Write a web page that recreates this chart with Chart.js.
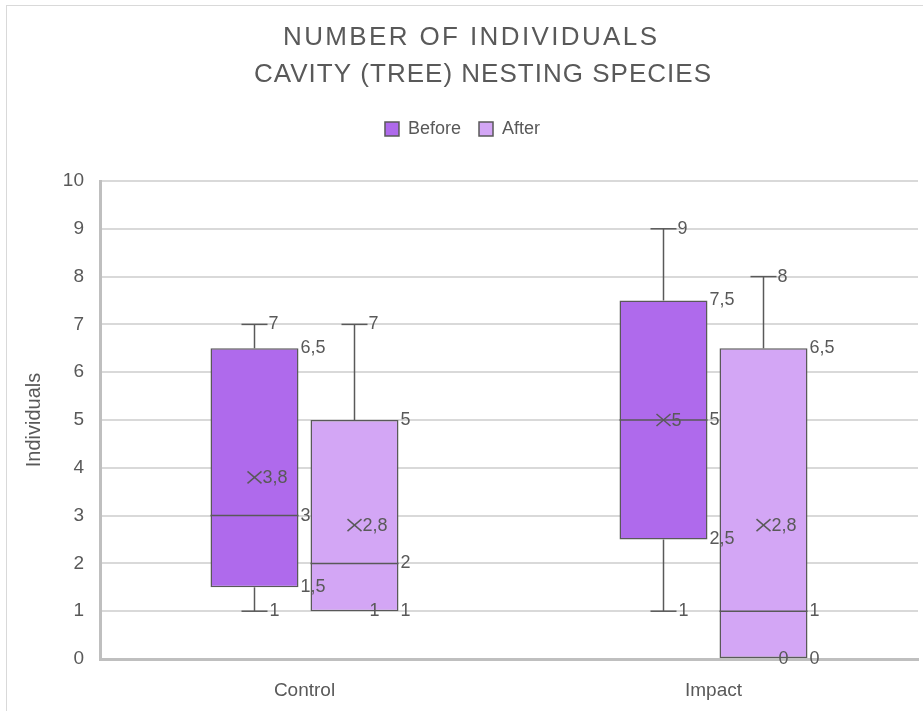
<!DOCTYPE html>
<html lang="en">
<head>
    <meta charset="UTF-8">
    <title>Number of individuals - cavity (tree) nesting species</title>
    <script src="https://cdn.jsdelivr.net/npm/chart.js"></script>
    <style>
        html, body { margin: 0; padding: 0; background: #ffffff; overflow: hidden; }
        #wrap {
            position: absolute;
            left: 6px;
            top: 5px;
            width: 1000px;
            height: 800px;
            border: 1px solid #d9d9d9;
        }
        canvas { display: block; }
    </style>
</head>
<body>
    <div id="wrap">
        <canvas id="chart" width="926" height="705"></canvas>
    </div>

    <script>
        // box plot summary per site, one set of arrays per period
        const categories = ['Control', 'Impact'];
        const seriesNames = ['Before', 'After'];

        const beforeMin = [1, 1];
        const beforeQ1 = [1.5, 2.5];
        const beforeMedian = [3, 5];
        const beforeQ3 = [6.5, 7.5];
        const beforeMax = [7, 9];
        const beforeMean = [3.8, 5];

        const afterMin = [1, 0];
        const afterQ1 = [1, 0];
        const afterMedian = [2, 1];
        const afterQ3 = [5, 6.5];
        const afterMax = [7, 8];
        const afterMean = [2.8, 2.8];

        const yTickValues = [0, 1, 2, 3, 4, 5, 6, 7, 8, 9, 10];
        const titleLines = ['NUMBER OF INDIVIDUALS', 'CAVITY (TREE) NESTING SPECIES'];

        const textColor = '#595959';
        const lineColor = '#595959';
        const fontFamily = '"Liberation Sans", Arial, sans-serif';

        const fmt = v => String(v).replace('.', ',');

        // whiskers, median, mean marker and value labels on top of the floating bars
        const boxDetails = {
            id: 'boxDetails',
            afterDatasetsDraw(chart) {
                const { ctx } = chart;
                const y = chart.scales.y;
                const line = (x1, y1, x2, y2) => {
                    ctx.beginPath();
                    ctx.moveTo(x1, y1);
                    ctx.lineTo(x2, y2);
                    ctx.stroke();
                };
                ctx.save();
                ctx.strokeStyle = lineColor;
                ctx.lineWidth = 1.5;
                ctx.fillStyle = textColor;
                ctx.font = '18px ' + fontFamily;
                ctx.textBaseline = 'middle';
                ctx.textAlign = 'left';

                chart.data.datasets.forEach((ds, di) => {
                    const s = ds.stats;
                    chart.getDatasetMeta(di).data.forEach((bar, i) => {
                        const cx = bar.x;
                        const right = bar.x + bar.width / 2;
                        const left = bar.x - bar.width / 2;
                        const pMin = y.getPixelForValue(s.min[i]);
                        const pQ1 = y.getPixelForValue(s.q1[i]);
                        const pMed = y.getPixelForValue(s.median[i]);
                        const pQ3 = y.getPixelForValue(s.q3[i]);
                        const pMax = y.getPixelForValue(s.max[i]);
                        const pMean = y.getPixelForValue(s.mean[i]);

                        // whiskers + caps, only where they stick out of the box
                        if (s.max[i] > s.q3[i]) {
                            line(cx, pQ3, cx, pMax);
                            line(cx - 13, pMax, cx + 13, pMax);
                        }
                        if (s.min[i] < s.q1[i]) {
                            line(cx, pQ1, cx, pMin);
                            line(cx - 13, pMin, cx + 13, pMin);
                        }

                        // median
                        line(left, pMed, right, pMed);

                        // mean cross
                        line(cx - 7, pMean - 6, cx + 7, pMean + 6);
                        line(cx - 7, pMean + 6, cx + 7, pMean - 6);

                        // labels
                        ctx.fillText(fmt(s.max[i]), cx + 14, pMax);
                        ctx.fillText(fmt(s.min[i]), cx + 15, pMin);
                        ctx.fillText(fmt(s.q3[i]), right + 2, pQ3);
                        ctx.fillText(fmt(s.median[i]), right + 2, pMed);
                        ctx.fillText(fmt(s.q1[i]), right + 2, pQ1);
                        ctx.fillText(fmt(s.mean[i]), cx + 8, pMean + 1);
                    });
                });
                ctx.restore();
            }
        };

        // spaced-out two line heading
        const spacedTitle = {
            id: 'spacedTitle',
            afterDraw(chart) {
                const { ctx } = chart;
                const spans = [[276, 374, 39], [247, 457, 76]]; // left, width, baseline
                ctx.save();
                ctx.font = '26px ' + fontFamily;
                ctx.fillStyle = textColor;
                ctx.textAlign = 'left';
                ctx.textBaseline = 'alphabetic';
                titleLines.forEach((t, k) => {
                    const [x, w, base] = spans[k];
                    ctx.letterSpacing = '0px';
                    const natural = ctx.measureText(t).width;
                    const sp = (w - natural) / (t.length - 1);
                    ctx.letterSpacing = sp + 'px';
                    ctx.fillText(t, x, base);
                });
                ctx.restore();
            }
        };

        // extra room between legend and plot
        const legendGap = {
            id: 'legendGap',
            beforeInit(chart) {
                const origFit = chart.legend.fit;
                chart.legend.fit = function fit() {
                    origFit.bind(chart.legend)();
                    this.height += 33;
                };
            }
        };

        const data = {
            labels: categories,
            datasets: [
                {
                    label: seriesNames[0],
                    data: categories.map((c, i) => [beforeQ1[i], beforeQ3[i]]),
                    stats: { min: beforeMin, q1: beforeQ1, median: beforeMedian, q3: beforeQ3, max: beforeMax, mean: beforeMean },
                    backgroundColor: '#af6aec',
                    borderColor: lineColor,
                    borderWidth: 1.5,
                    borderSkipped: false
                },
                {
                    label: seriesNames[1],
                    data: categories.map((c, i) => [afterQ1[i], afterQ3[i]]),
                    stats: { min: afterMin, q1: afterQ1, median: afterMedian, q3: afterQ3, max: afterMax, mean: afterMean },
                    backgroundColor: '#d3a6f5',
                    borderColor: lineColor,
                    borderWidth: 1.5,
                    borderSkipped: false
                }
            ]
        };

        new Chart(document.getElementById('chart'), {
            type: 'bar',
            data: data,
            plugins: [legendGap, boxDetails, spacedTitle],
            options: {
                responsive: false,
                animation: false,
                categoryPercentage: 0.489,
                barPercentage: 0.88,
                layout: { padding: { top: 96, right: 15, left: 0, bottom: 0 } },
                plugins: {
                    title: { display: false },
                    tooltip: { enabled: false },
                    legend: {
                        position: 'top',
                        labels: {
                            boxWidth: 14,
                            boxHeight: 14,
                            padding: 18,
                            color: textColor,
                            font: { family: fontFamily, size: 18 }
                        }
                    }
                },
                scales: {
                    x: {
                        grid: { display: false },
                        border: { display: true, color: '#bfbfbf', width: 3 },
                        ticks: { color: textColor, padding: 12, font: { family: fontFamily, size: 19 } },
                        afterFit(scale) { scale.height = 52; }
                    },
                    y: {
                        min: 0,
                        max: 10,
                        afterBuildTicks(scale) { scale.ticks = yTickValues.map(v => ({ value: v })); },
                        grid: { color: '#d9d9d9', lineWidth: 2, drawTicks: false },
                        border: { display: true, color: '#bfbfbf', width: 3 },
                        ticks: { color: textColor, padding: 16, font: { family: fontFamily, size: 19 } },
                        title: {
                            display: true,
                            text: 'Individuals',
                            color: textColor,
                            padding: { top: 15, bottom: 0 },
                            font: { family: fontFamily, size: 20 }
                        },
                        afterFit(scale) { scale.width = 93; }
                    }
                }
            }
        });
    </script>
</body>
</html>
